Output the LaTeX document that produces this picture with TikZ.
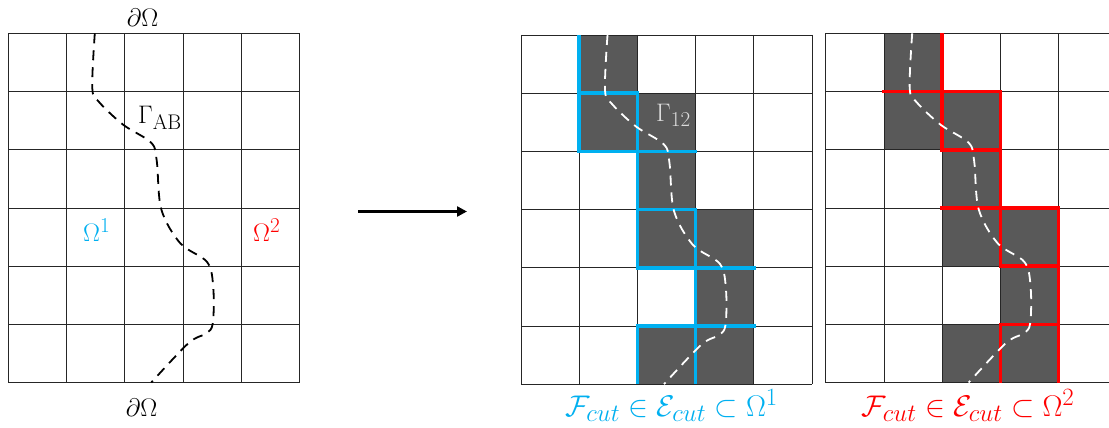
\documentclass[tikz,border=0pt]{standalone}
\usetikzlibrary{arrows.meta}
\definecolor{cblue}{HTML}{00B0F0}
\definecolor{cred}{HTML}{FF0000}
\definecolor{cgrey}{HTML}{595959}
\definecolor{clight}{HTML}{DCDCDC}
\def\cellsz{58.2}
\newcommand\mylbl[1]{\scalebox{1.02}{\Huge #1}}
\newcommand\mybig[1]{\scalebox{1.2}{\Huge #1}}
\tikzset{
  gridline/.style={draw=black!85, line width=0.8pt},
  cellfill/.style={fill=cgrey},
  curveline/.style={dash pattern=on 10pt off 7pt, line width=1.8pt},
  cutblue/.style={draw=cblue, line width=3.6pt, line cap=butt, line join=miter},
  cutred/.style={draw=cred, line width=3.6pt, line cap=butt, line join=miter},
  lbl/.style={inner sep=0pt},
  pics/cutgrid/.style={code={
    \foreach \i in {0,...,5} \draw[gridline] (\i*\cellsz,0) -- (\i*\cellsz,6*\cellsz);
    \foreach \j in {0,...,6} \draw[gridline] (0,\j*\cellsz) -- (5*\cellsz,\j*\cellsz);
  }},
  pics/shaded/.style={code={
    \foreach \c/\r in {1/0,1/1,2/1,2/2,2/3,3/3,3/4,2/5,3/5}
      \fill[cellfill] (\c*\cellsz,\r*\cellsz) rectangle ++(\cellsz,\cellsz);
  }},
  pics/gamma/.style={code={
    \draw[curveline,#1] plot[smooth,tension=0.55] coordinates {(86.5,0) (84,55) (91,69) (115,91.5) (143,109.5) (148.5,128) (153,176) (172,210) (199,229) (205,255) (204.5,290) (198,300) (180,310) (143,349.2)};
  }},
}
\begin{document}
\begin{tikzpicture}[x=1pt,y=-1pt]
\useasboundingbox (0,0) rectangle (1109,428);
\clip (0,0) rectangle (1109,428);
\fill[white] (0,0) rectangle (1109,428);

% ---------- left grid ----------
\begin{scope}[shift={(8.3,33.3)}]
  \pic {cutgrid};
  \pic {gamma=black};
\end{scope}
\node[lbl, anchor=base] (topdO) at (142.5,26.5) {\mylbl{$\partial\Omega$}};
\node[lbl, anchor=base] (botdO) at (141.7,416) {\mylbl{$\partial\Omega$}};
\node[lbl, anchor=base west] (gAB) at (138,123.5) {\mylbl{$\Gamma_{\mathrm{AB}}$}};
\node[lbl, anchor=base west, text=cblue] (om1) at (83,241.5) {\mylbl{$\Omega^{1}$}};
\node[lbl, anchor=base west, text=cred] (om2) at (253,241.5) {\mylbl{$\Omega^{2}$}};

% ---------- arrow ----------
\coordinate (arS) at (358,211.5);
\coordinate (arE) at (467,211.5);
\draw[line width=2.4pt, -{Triangle[length=10pt,width=10pt]}] (arS) -- (arE);

% ---------- middle grid ----------
\begin{scope}[shift={(521,35)}]
  \pic {shaded};
  \pic {cutgrid};
  \draw[cutblue] (1*\cellsz,0) -- (1*\cellsz,2*\cellsz) -- (3*\cellsz+1.8,2*\cellsz);
  \draw[cutblue] (1*\cellsz-1.8,1*\cellsz) -- (2*\cellsz,1*\cellsz) -- (2*\cellsz,4*\cellsz) -- (4*\cellsz+1.8,4*\cellsz);
  \draw[cutblue] (2*\cellsz-1.8,3*\cellsz) -- (3*\cellsz,3*\cellsz) -- (3*\cellsz,6*\cellsz);
  \draw[cutblue] (2*\cellsz,6*\cellsz) -- (2*\cellsz,5*\cellsz) -- (4*\cellsz+1.8,5*\cellsz);
  \pic {gamma=white};
\end{scope}
\node[lbl, anchor=base west, text=clight] (g12) at (656,121.5) {\mylbl{$\Gamma_{12}$}};
\node[lbl, anchor=base, text=cblue] (fcut1) at (671.5,416.5) {\mybig{$\mathcal{F}_{cut}\in\mathcal{E}_{cut}\subset\Omega^{1}$}};

% ---------- right grid ----------
\begin{scope}[shift={(825.7,33.3)}]
  \pic {shaded};
  \pic {cutgrid};
  \draw[cutred] (2*\cellsz,0) -- (2*\cellsz,2*\cellsz) -- (3*\cellsz+1.8,2*\cellsz);
  \draw[cutred] (1*\cellsz-1.8,1*\cellsz) -- (3*\cellsz,1*\cellsz) -- (3*\cellsz,4*\cellsz) -- (4*\cellsz+1.8,4*\cellsz);
  \draw[cutred] (2*\cellsz-1.8,3*\cellsz) -- (4*\cellsz,3*\cellsz) -- (4*\cellsz,6*\cellsz);
  \draw[cutred] (3*\cellsz,6*\cellsz) -- (3*\cellsz,5*\cellsz) -- (4*\cellsz+1.8,5*\cellsz);
  \pic {gamma=white};
\end{scope}
\node[lbl, anchor=base, text=cred] (fcut2) at (968,416.5) {\mybig{$\mathcal{F}_{cut}\in\mathcal{E}_{cut}\subset\Omega^{2}$}};
\end{tikzpicture}
\end{document}
